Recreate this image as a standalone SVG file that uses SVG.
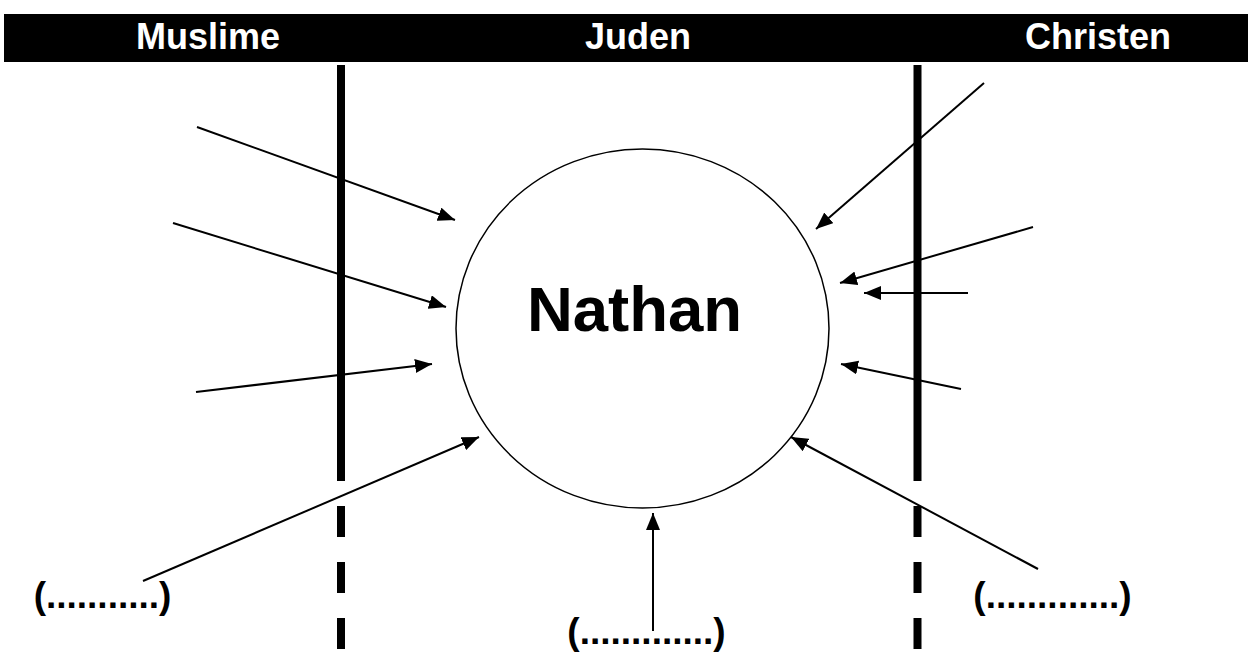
<svg xmlns="http://www.w3.org/2000/svg" width="1248" height="657" viewBox="0 0 1248 657">
<style>
.hdr{font-family:"Liberation Sans",Arial,sans-serif;font-weight:bold;font-size:36px;fill:#fff;text-anchor:middle}
.lbl{font-family:"Liberation Sans",Arial,sans-serif;font-weight:bold;font-size:37px;fill:#000;text-anchor:middle}
.arr{stroke:#000;stroke-width:2;fill:none;marker-end:url(#ah)}
.div{stroke:#000;stroke-width:8;fill:none}
</style>
<defs>
<marker id="ah" markerUnits="userSpaceOnUse" markerWidth="18" markerHeight="14" refX="17" refY="7" orient="auto">
<path d="M0,0 L17,7 L0,14 Z" fill="#000"/>
</marker>
</defs>
<rect width="1248" height="657" fill="#fff"/>
<g id="header">
<rect x="4" y="14" width="1244" height="48" fill="#000"/>
<text class="hdr" x="208" y="49">Muslime</text>
<text class="hdr" x="638" y="49">Juden</text>
<text class="hdr" x="1098" y="49">Christen</text>
</g>
<g id="dividers">
<line class="div" x1="341" y1="65" x2="341" y2="481"/>
<line class="div" x1="341" y1="506" x2="341" y2="649" stroke-dasharray="31 25"/>
<line class="div" x1="917.5" y1="65" x2="917.5" y2="481"/>
<line class="div" x1="917.5" y1="506" x2="917.5" y2="649" stroke-dasharray="31 25"/>
</g>
<g id="nathan">
<ellipse cx="642.5" cy="328.5" rx="186.5" ry="179.5" fill="none" stroke="#000" stroke-width="1.5"/>
<text x="634.5" y="331" font-family="Liberation Sans, Arial, sans-serif" font-weight="bold" font-size="63.5" text-anchor="middle">Nathan</text>
</g>
<g id="label-left"><text class="lbl" x="102.5" y="608">(...........)</text></g>
<g id="label-mid"><text class="lbl" x="646.5" y="644">(.............)</text></g>
<g id="label-right"><text class="lbl" x="1052.5" y="608">(.............)</text></g>
<g id="connectors">
<line class="arr" x1="197" y1="127" x2="455" y2="220"/>
<line class="arr" x1="173" y1="223" x2="446" y2="307"/>
<line class="arr" x1="196" y1="392" x2="432" y2="364"/>
<line class="arr" x1="143" y1="581" x2="479" y2="437"/>
<line class="arr" x1="653" y1="631" x2="653" y2="513"/>
<line class="arr" x1="984" y1="83" x2="816" y2="229"/>
<line class="arr" x1="1033" y1="227" x2="840" y2="283"/>
<line class="arr" x1="968" y1="293" x2="864" y2="293"/>
<line class="arr" x1="961" y1="389" x2="841" y2="364"/>
<line class="arr" x1="1038" y1="569" x2="791" y2="437"/>
</g>
</svg>
